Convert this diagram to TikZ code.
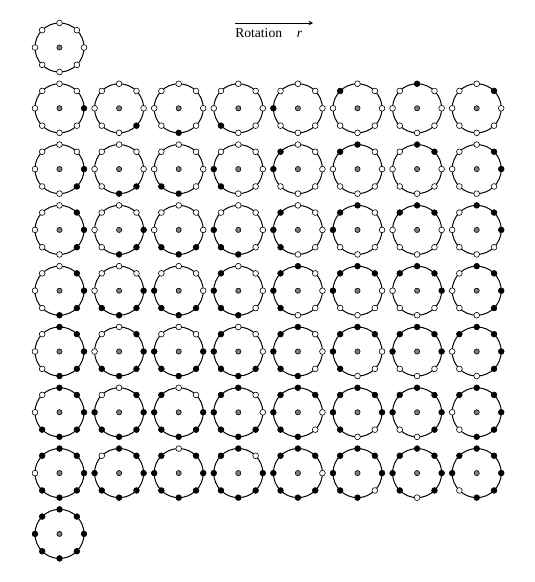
\documentclass[tikz,border=0pt]{standalone}
\usepackage{fontspec}
\setmainfont{Liberation Serif}
\usetikzlibrary{arrows}
\tikzset{
  ring/.style={circle,draw,line width=0.75pt,minimum size=36.8pt,inner sep=0pt,outer sep=0pt},
  bit0/.style={circle,draw,fill=white,line width=0.45pt,minimum size=4.3pt,inner sep=0pt},
  bit1/.style={bit0,fill=black},
  hub/.style={bit0,fill=gray,minimum size=3.9pt}
}
% #1 = column (rotation), #2 = row (number of ones)
\newcommand{\lbpring}[2]{%
  \node[ring] (r#2#1) at ({59.5+59.6*#1},{47.5+60.8*#2}) {};
  \node[hub] (r#2#1c) at (r#2#1.center) {};
  \foreach \p in {0,...,7}{
    \pgfmathtruncatemacro{\d}{mod(\p-#1+floor((#2-1)/2)+16,8)}
    \pgfmathtruncatemacro{\a}{360-45*\p}
    \ifnum\d<#2 \def\bitstyle{bit1}\else\def\bitstyle{bit0}\fi
    \node[\bitstyle] (r#2#1b\p) at (r#2#1.\a) {};
  }
}

\begin{document}
\begin{tikzpicture}[x=0.75pt,y=-0.75pt]
  \useasboundingbox (0,0) rectangle (535,582);
  \lbpring{0}{0}
  \foreach \k in {1,...,7}
    \foreach \j in {0,...,7}
      {\lbpring{\j}{\k}}
  \lbpring{0}{8}
  % rotation label
  \node[anchor=base west,inner sep=0pt,font=\fontsize{10.2}{12}\selectfont]
    (rot) at (235,37) {Rotation\hspace{11pt}\textit{r}};
  \coordinate (rotA) at (235,23);
  \coordinate (rotB) at (313,23);
  \draw[-stealth,line width=0.5pt] (rotA) -- (rotB);
\end{tikzpicture}
\end{document}
